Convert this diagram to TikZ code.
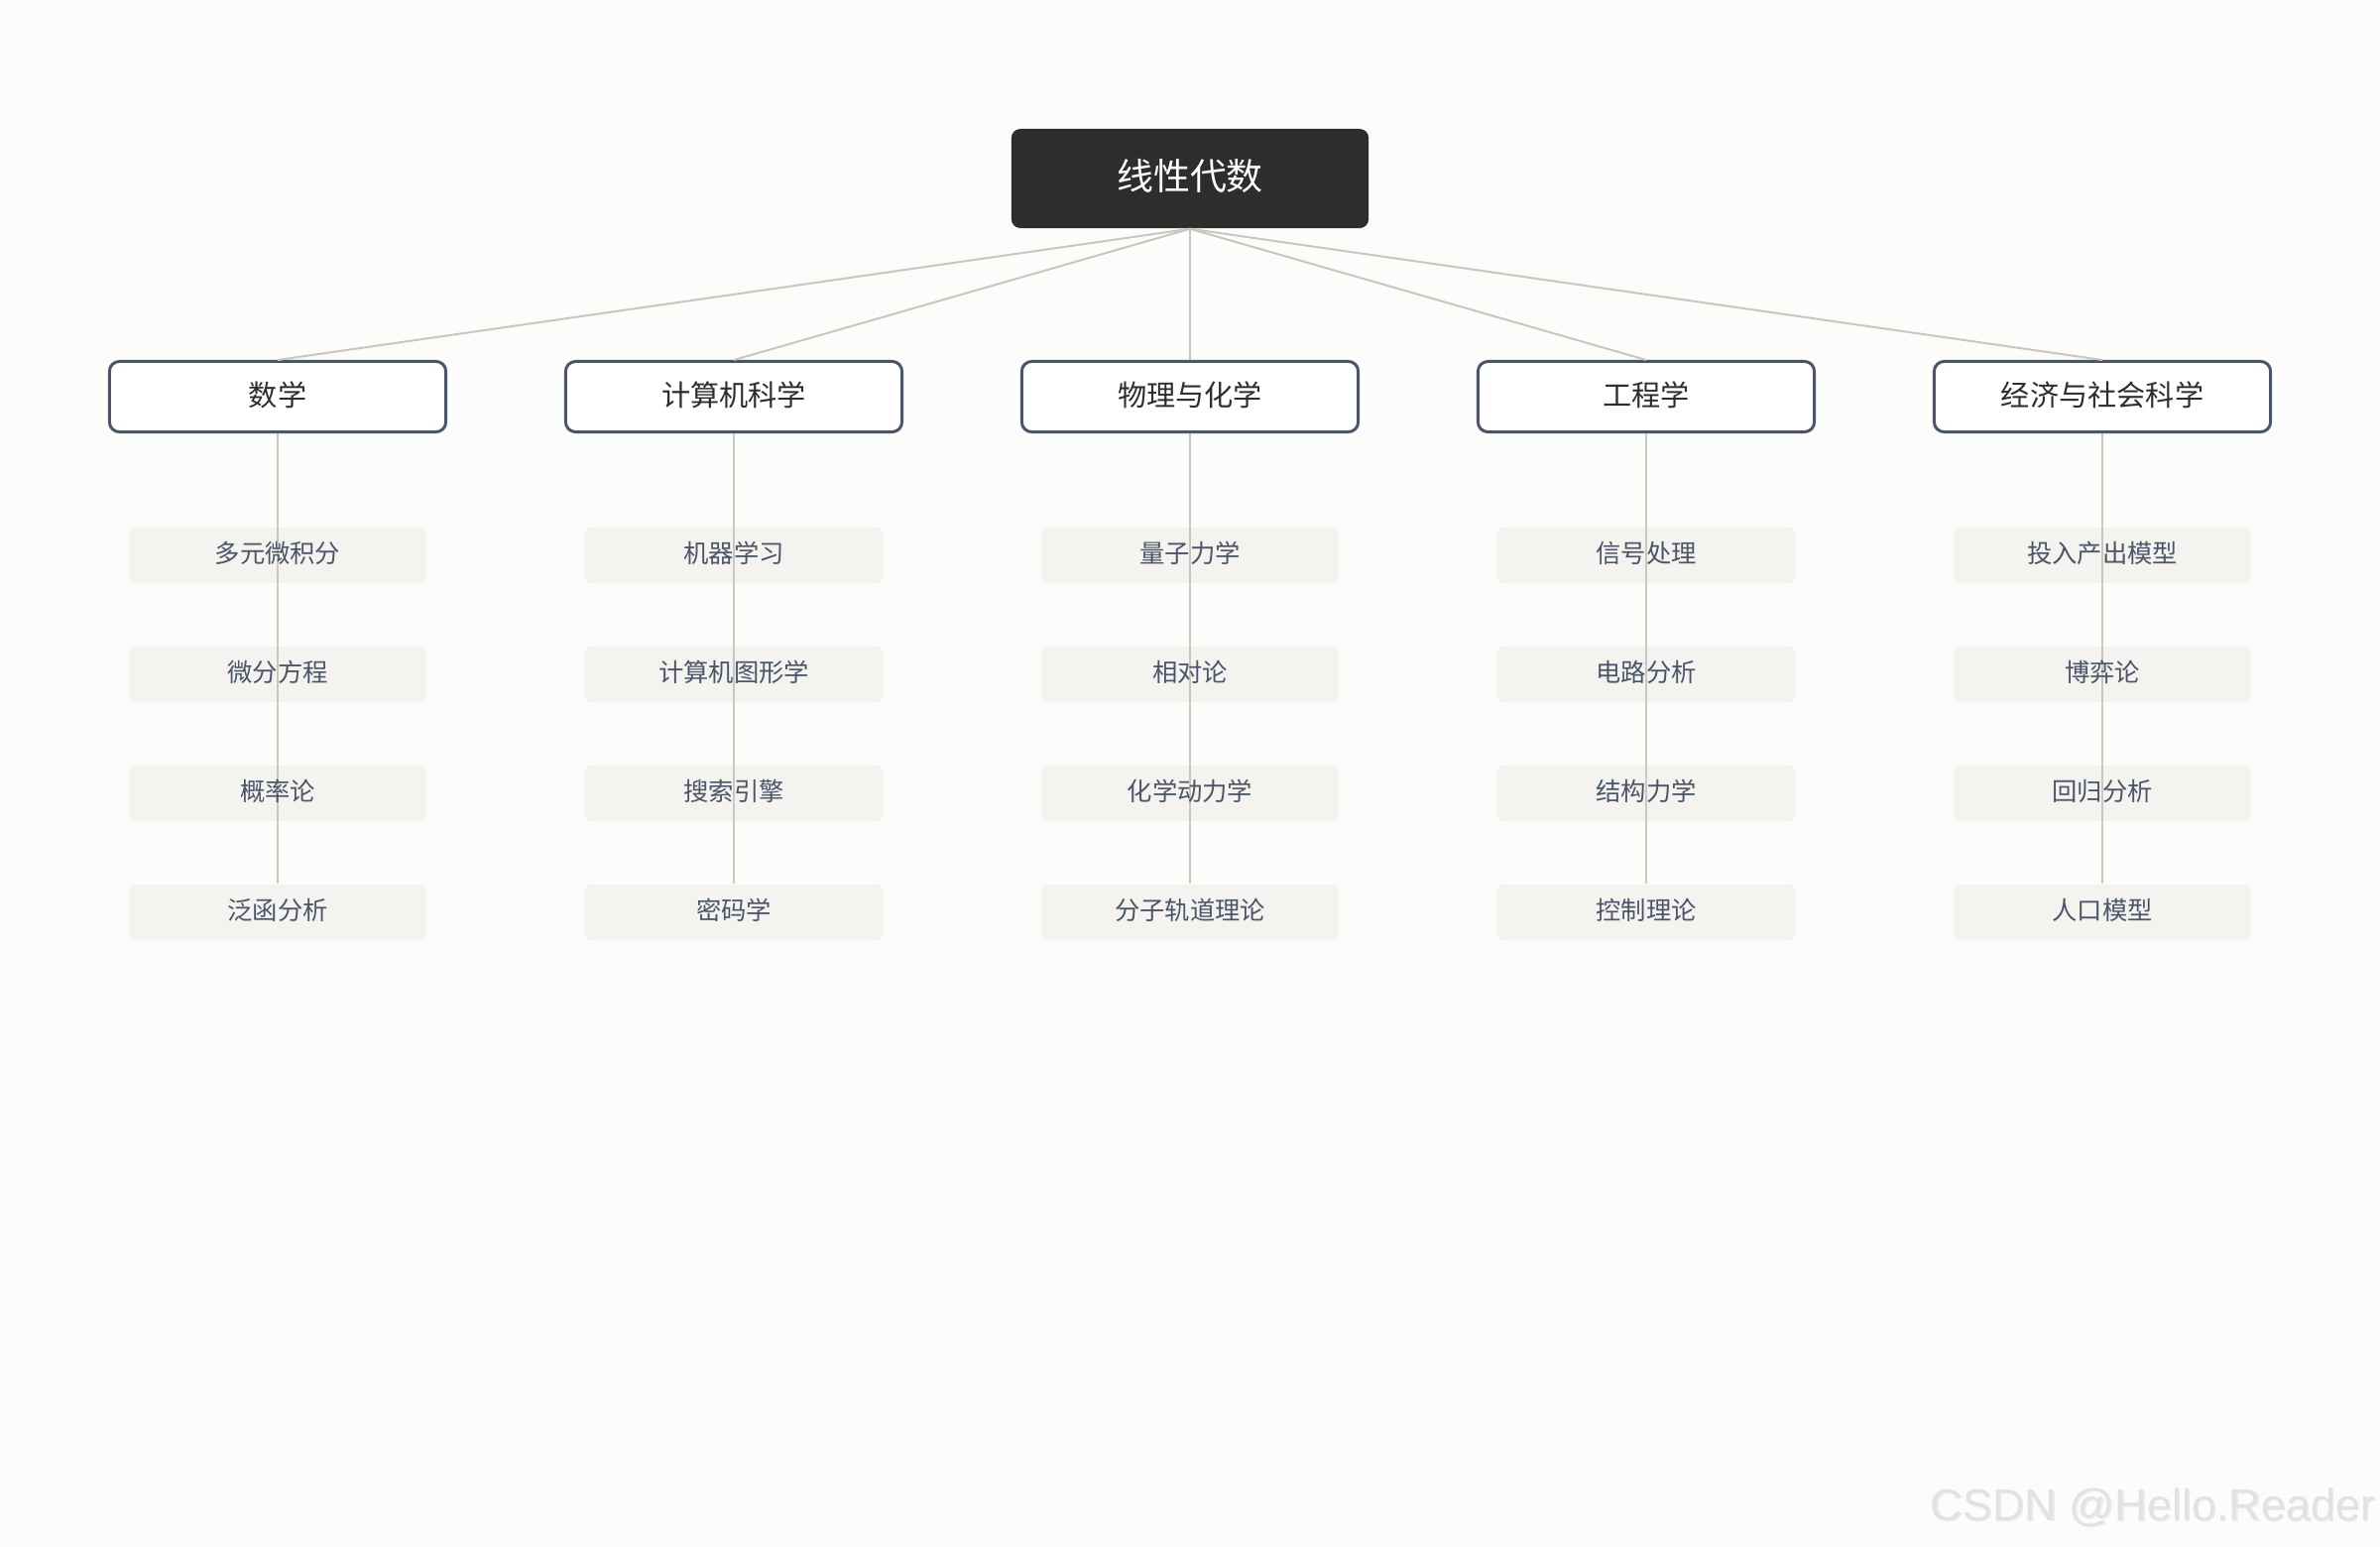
\documentclass[tikz,border=0pt]{standalone}
\usepackage{fontspec}
\setmainfont{Noto Sans CJK SC}
\newfontfamily\wmfont{Liberation Sans}
\definecolor{bgc}{HTML}{FCFCFA}
\definecolor{rootc}{HTML}{2D2D2D}
\definecolor{catborder}{HTML}{4A5568}
\definecolor{cattext}{HTML}{2D2D2D}
\definecolor{leaffill}{HTML}{F4F3EF}
\definecolor{leaftext}{HTML}{4A5568}
\definecolor{linec}{HTML}{C8C8C0}
\definecolor{wmc}{HTML}{E2E2E2}
\begin{document}
\begin{tikzpicture}[x=0.01cm,y=-0.01cm,
  rootbox/.style={draw=none,fill=rootc,rounded corners=0.09cm,minimum width=3.6cm,minimum height=1.0cm,text=white,font=\fontsize{10.5pt}{12pt}\selectfont,inner sep=0pt},
  catbox/.style={draw=catborder,line width=0.85pt,fill=white,rounded corners=0.1cm,minimum width=3.39cm,minimum height=0.71cm,text=cattext,font=\fontsize{8.3pt}{10pt}\selectfont,inner sep=0pt},
  leafbox/.style={draw=none,fill=leaffill,rounded corners=0.06cm,minimum width=3.0cm,minimum height=0.56cm,text=leaftext,font=\fontsize{7.2pt}{9pt}\selectfont,inner sep=0pt},
  lbl/.style={inner sep=0pt},
  conn/.style={draw=linec,line width=0.57pt}]
\fill[bgc] (0,0) rectangle (2400,1560);
\useasboundingbox (0,0) rectangle (2400,1560);

\node[rootbox] (root) at (1200,180) {};
\node[lbl,text=white,font=\fontsize{10.5pt}{12pt}\selectfont] (rootl) at (1200,177) {线性代数};

\node[catbox] (c1) at (280,400) {};
\node[catbox] (c2) at (740,400) {};
\node[catbox] (c3) at (1200,400) {};
\node[catbox] (c4) at (1660,400) {};
\node[catbox] (c5) at (2120,400) {};
\foreach \c/\t in {c1/数学,c2/计算机科学,c3/物理与化学,c4/工程学,c5/经济与社会科学}
  \node[lbl,text=cattext,font=\fontsize{8.3pt}{10pt}\selectfont] (\c l) at ([yshift=0.02cm]\c.center) {\t};

\foreach \c in {c1,c2,c3,c4,c5}
  \draw[conn] (root.south) -- (\c.north);

\foreach \x/\c/\a/\b/\cc/\d in {
  280/c1/多元微积分/微分方程/概率论/泛函分析,
  740/c2/机器学习/计算机图形学/搜索引擎/密码学,
  1200/c3/量子力学/相对论/化学动力学/分子轨道理论,
  1660/c4/信号处理/电路分析/结构力学/控制理论,
  2120/c5/投入产出模型/博弈论/回归分析/人口模型}{
  \node[leafbox] (\c l1) at (\x,560) {};
  \node[leafbox] (\c l2) at (\x,680) {};
  \node[leafbox] (\c l3) at (\x,800) {};
  \node[leafbox] (\c l4) at (\x,920) {};
  \draw[conn] (\c.south) -- (\c l4.north);
  \node[lbl,text=leaftext,font=\fontsize{7.2pt}{9pt}\selectfont] (\c t1) at (\x,558) {\a};
  \node[lbl,text=leaftext,font=\fontsize{7.2pt}{9pt}\selectfont] (\c t2) at (\x,678) {\b};
  \node[lbl,text=leaftext,font=\fontsize{7.2pt}{9pt}\selectfont] (\c t3) at (\x,798) {\cc};
  \node[lbl,text=leaftext,font=\fontsize{7.2pt}{9pt}\selectfont] (\c t4) at (\x,918) {\d};
}

\node[text=white!85!gray,font=\wmfont\fontsize{12.8pt}{14pt}\selectfont,anchor=east,inner sep=0pt] (wm2) at (2397.5,1521.5) {CSDN @Hello.Reader};
\node[text=wmc,font=\wmfont\fontsize{12.8pt}{14pt}\selectfont,anchor=east,inner sep=0pt] (wm) at (2396,1520) {CSDN @Hello.Reader};
\end{tikzpicture}
\end{document}
